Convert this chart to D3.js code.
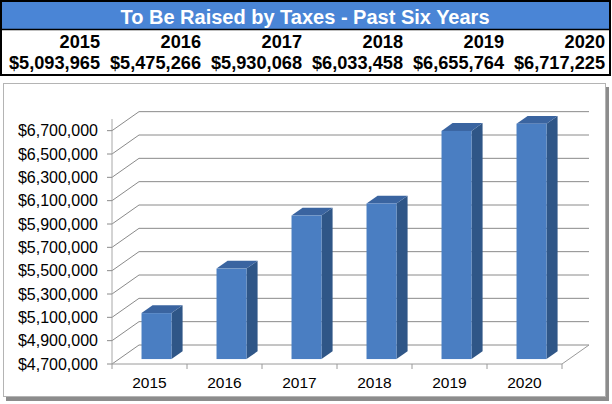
<!DOCTYPE html>
<html><head><meta charset="utf-8">
<script src="https://cdn.jsdelivr.net/npm/d3@7"></script>
<style>html,body{margin:0;padding:0;background:#fff;}svg{display:block;}</style>
</head><body>
<svg id="c" width="612" height="404"></svg>
<script>
const years = ["2015","2016","2017","2018","2019","2020"];
const values = [5093965, 5475266, 5930068, 6033458, 6655764, 6717225];
const valueLabels = ["$5,093,965","$5,475,266","$5,930,068","$6,033,458","$6,655,764","$6,717,225"];
const tickValues = [4700000,4900000,5100000,5300000,5500000,5700000,5900000,6100000,6300000,6500000,6700000];
const title = "To Be Raised by Taxes - Past Six Years";

const svg = d3.select("#c");
const font = "'Liberation Sans', Arial, sans-serif";

// ---- header table ----
svg.append("rect").attr("x",1).attr("y",1).attr("width",609).attr("height",74)
  .attr("fill","#fff").attr("stroke","#000").attr("stroke-width",2);
svg.append("rect").attr("x",2).attr("y",2).attr("width",607).attr("height",27).attr("fill","#4a85d6");
svg.append("line").attr("x1",1).attr("x2",610).attr("y1",29.5).attr("y2",29.5).attr("stroke","#000").attr("stroke-width",1.5);
svg.append("text").attr("x",305).attr("y",23.5).attr("text-anchor","middle")
  .attr("font-family",font).attr("font-weight","bold").attr("font-size",20).attr("fill","#fff").text(title);

const colX = d3.scaleBand().domain(years).range([2, 608]);
const hdr = svg.append("g").attr("font-family",font).attr("font-weight","bold").attr("font-size",18.2).attr("text-anchor","end");
years.forEach((y,i)=>{
  const xr = colX(y) + colX.bandwidth() - 3;
  hdr.append("text").attr("x",xr).attr("y",47.5).text(y);
  hdr.append("text").attr("x",xr).attr("y",69).text(valueLabels[i]);
});

// ---- chart box ----
svg.append("rect").attr("x",6).attr("y",87).attr("width",603).attr("height",314).attr("fill","#8c8c8c");
svg.append("rect").attr("x",3.5).attr("y",83.5).attr("width",602).attr("height",313)
  .attr("fill","#fff").attr("stroke","#b4b4b4").attr("stroke-width",1);

// ---- 3D column chart ----
const x0 = 112, x1 = 562;
const DX = 27, DY = -19;           // depth offset of back wall
const y = d3.scaleLinear().domain([4700000, 6800000]).range([364, 119]);
const x = d3.scaleBand().domain(years).range([x0, x1]).paddingInner(0.6).paddingOuter(0.3);
const step = x.step();

const g = svg.append("g");
// gridlines (side wall diagonal + back wall horizontal)
tickValues.forEach(v=>{
  const yy = y(v);
  g.append("path").attr("d",`M${x0},${yy}L${x0+DX},${yy+DY}L${x1+DX},${yy+DY}`)
    .attr("fill","none").attr("stroke","#8a8a8a").attr("stroke-width",1);
});
// floor
g.append("path").attr("d",`M${x0},${y(4700000)}L${x1},${y(4700000)}L${x1+DX},${y(4700000)+DY}`)
  .attr("fill","none").attr("stroke","#9a9a9a").attr("stroke-width",1);
// vertical axis line
g.append("line").attr("x1",x0).attr("x2",x0).attr("y1",y(4700000)).attr("y2",y(6800000))
  .attr("stroke","#a8a8a8").attr("stroke-width",1);
// y ticks + labels
tickValues.forEach(v=>{
  g.append("line").attr("x1",x0-5).attr("x2",x0).attr("y1",y(v)).attr("y2",y(v)).attr("stroke","#8a8a8a");
});
g.append("g").attr("font-family",font).attr("font-size",16).attr("text-anchor","end")
  .selectAll("text").data(tickValues).join("text")
  .attr("x",98).attr("y",d=>y(d)+5.5).text(d=>"$"+d3.format(",")(d));
// category ticks
d3.range(years.length+1).forEach(i=>{
  const xx = x0 + i*step;
  g.append("line").attr("x1",xx).attr("x2",xx).attr("y1",y(4700000)).attr("y2",y(4700000)+5).attr("stroke","#9a9a9a");
});
g.append("g").attr("font-family",font).attr("font-size",15.5).attr("text-anchor","middle")
  .selectAll("text").data(years).join("text")
  .attr("x",d=>x(d)+x.bandwidth()/2).attr("y",388).text(d=>d);

// bars
const fF = 0.26, fB = 0.67;
const fx = DX*fF, fy = DY*fF, bx = DX*fB - fx, by = DY*fB - fy;
const bw = x.bandwidth();
years.forEach((yr,i)=>{
  const left = x(yr) + fx, top = y(values[i]) + fy, bot = y(4700000) + fy;
  // side
  g.append("path").attr("d",`M${left+bw},${top}L${left+bw+bx},${top+by}L${left+bw+bx},${bot+by}L${left+bw},${bot}Z`)
    .attr("fill","#2f5687");
  // top
  g.append("path").attr("d",`M${left},${top}L${left+bx},${top+by}L${left+bw+bx},${top+by}L${left+bw},${top}Z`)
    .attr("fill","#3a64a0");
  // front
  g.append("rect").attr("x",left).attr("y",top).attr("width",bw).attr("height",bot-top).attr("fill","#4a7ec2");
});
</script>
</body></html>
